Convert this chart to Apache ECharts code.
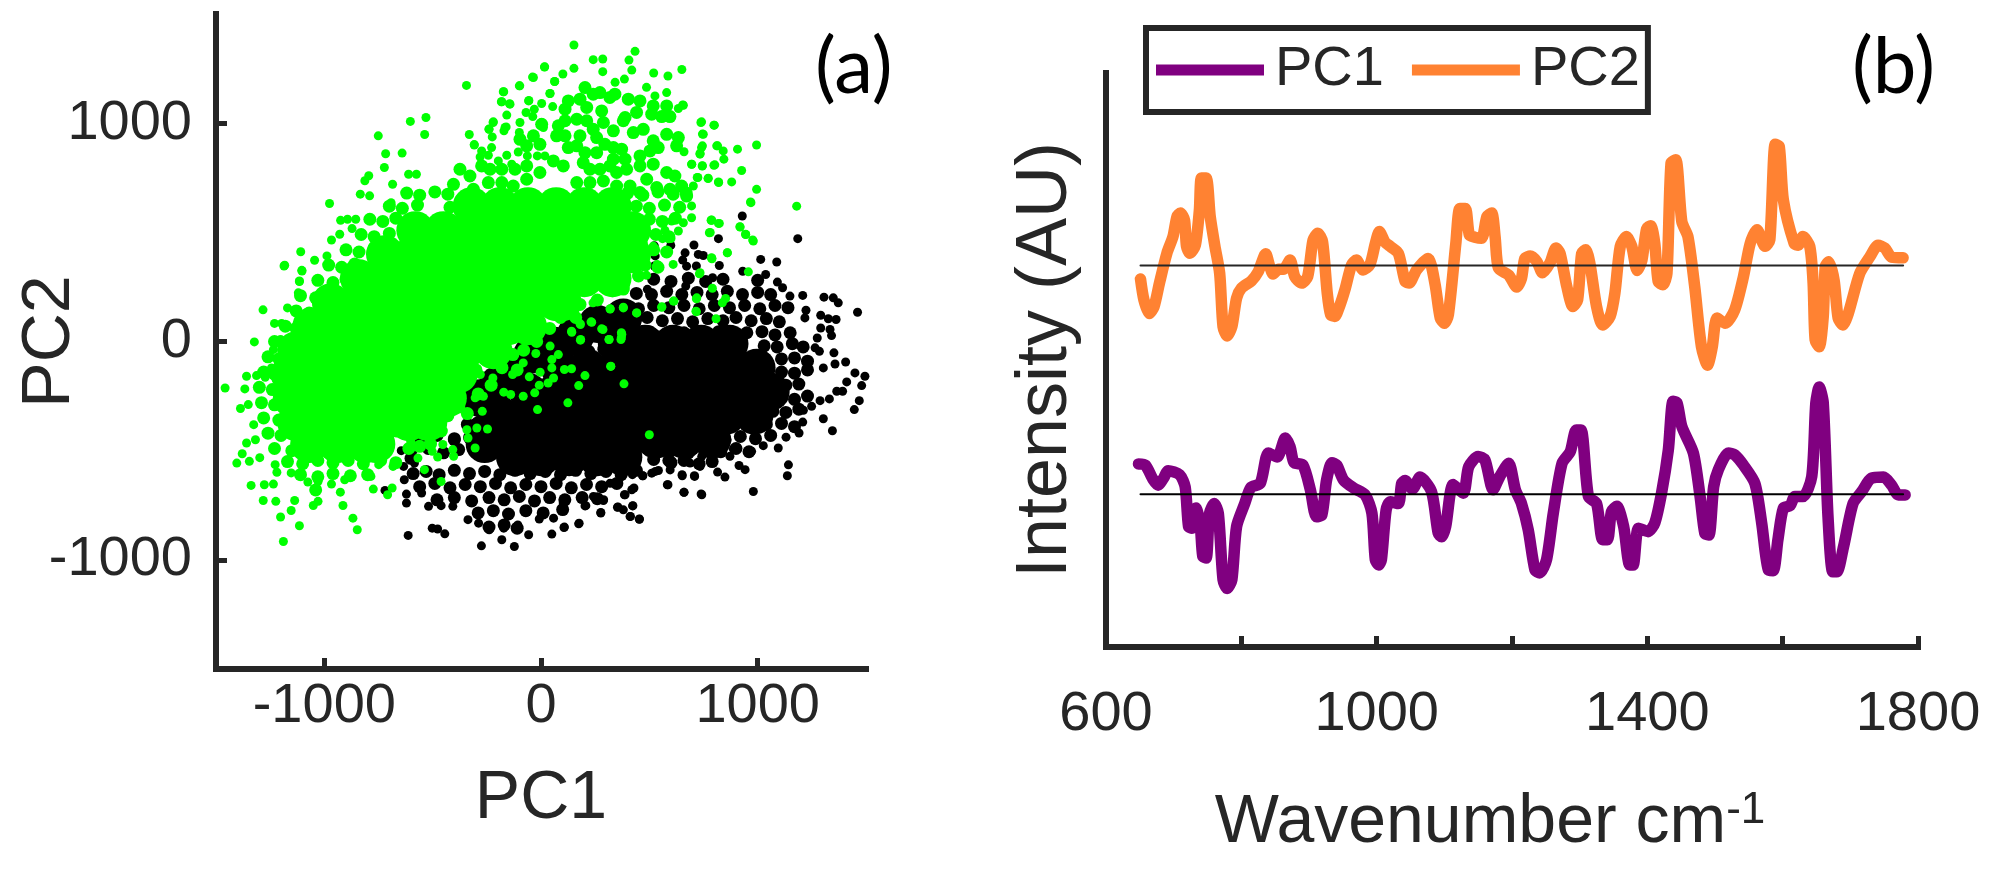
<!DOCTYPE html>
<html>
<head>
<meta charset="utf-8">
<style>
   html, body { margin: 0; padding: 0; background: #fff; }
   #chart { width: 2000px; height: 872px; }
</style>
<script src="https://cdn.jsdelivr.net/npm/echarts@6/dist/echarts.min.js"></script>
</head>
<body>
<div id="chart"></div>
<script>
// panel (a): the separate dots were read off the picture. Where dots overlap too much to
// be read one by one, the area is covered by the larger "core" and "patch" marks.
const blackCore = [
   [350,-10],[480,-10],[610,-10],[740,-10],[870,-10],
   [85,-120],[215,-120],[345,-120],[475,-120],[605,-120],[735,-120],[865,-120],[995,-120],
   [-60,-230],[70,-230],[200,-230],[330,-230],[460,-230],[590,-230],[720,-230],[850,-230],[980,-230],[1060,-230],
   [-185,-340],[-55,-340],[75,-340],[205,-340],[335,-340],[465,-340],[595,-340],[725,-340],[855,-340],[985,-340],
   [-260,-420],[-120,-450],[10,-450],[140,-450],[270,-450],[400,-450],[530,-450],[660,-450],[790,-450],
   [-260,-470],[-120,-530],[0,-530],[130,-530],[260,-530],[380,-530],
   [-130,-130],[-40,-60],[60,-20],[160,30],[260,80],[380,110],[-280,-260],[-200,-200]
];
const blackPatch = [
   [-590,-605],[-530,-595],[-470,-610],[-400,-590],[-330,-605],[-260,-595],[-190,-610],[-120,-590],[-50,-605],[20,-595],
   [90,-610],[160,-590],[230,-605],[300,-595],[370,-610],[440,-590],[520,-540],[590,-545],[-600,-535],
   [-560,-665],[-490,-650],[-420,-670],[-350,-655],[-280,-665],[-210,-650],[-140,-670],[-70,-655],[0,-665],[70,-650],
   [140,-670],[210,-655],[280,-665],[350,-650],
   [-480,-725],[-400,-715],[-320,-730],[-240,-715],[-170,-725],[-100,-710],[-30,-730],[40,-715],[110,-725],[190,-715],[260,-720],
   [-290,-785],[-220,-775],[-150,-790],[-70,-775],[10,-785],[100,-770],[-240,-850],[-170,-840],[-110,-855],
   [-600,-500],[-520,-490],[-450,-510],[-380,-495],[-560,-440],[-480,-430],[-400,-445],
   [-280,-300],[-220,-290],[-340,-310],[-340,-380],[-280,-370],[-400,-450],[-330,-440],
   [600,-500],[680,-510],[760,-495],[830,-505],[900,-490],[960,-505],[780,-440],[850,-450],[920,-435],[990,-445],[1060,-430],
   [600,-555],[660,-545],[730,-560],[790,-550],[1040,-380],[1110,-375],[1170,-390],[1070,-320],[1130,-325],[1190,-310],
   [1110,-260],[1170,-265],[1230,-250],[1130,-200],[1190,-195],[1110,-140],[1170,-145],[1230,-130],[1110,-80],[1170,-75],[1230,-90],
   [1030,-20],[1090,-25],[1160,-10],[1210,-25],[950,40],[1020,45],[1080,30],[1150,40],
   [200,40],[270,30],[340,45],[420,35],[500,45],[580,30],[660,40],[740,30],[820,45],[880,35],
   [350,100],[420,95],[490,110],[560,95],[630,105],[700,90],[770,105],[840,95],[900,110],[970,95],[1040,105],[1100,90],
   [380,160],[450,150],[520,165],[590,155],[660,165],[730,150],[800,165],[870,155],[940,165],[1010,150],[1080,165],[1140,155],
   [440,220],[510,215],[580,230],[650,215],[720,225],[790,215],[860,230],[930,215],[1000,225],[1060,215],
   [520,285],[600,275],[680,290],[760,275],[840,285],[1000,280],
   [90,-40],[150,-35],[220,-45],[290,-35]
];
const blackDots = [
   [-613,-888],[-502,-855],[-444,-881],[-477,-859],[-275,-936],[-181,-908],[-123,-939],[-57,-885],[50,-882],[108,-850],
   [174,-835],[58,-809],[-8,-813],[276,-786],[355,-758],[413,-801],[454,-813],[424,-752],[660,-691],[742,-702],
   [586,-656],[429,-671],[385,-702],[289,-725],[207,-752],[103,-740],[470,-615],[528,-595],[651,-610],[709,-618],
   [-621,-699],[-621,-740],[-461,-752],[-407,-755],[-519,-755],[-720,-682],[-700,-442],[-645,-500],[-634,-572],[-631,-633],
   [-584,-557],[-551,-694],[-337,-816],[-288,-832],[-239,-862],[-172,-855],[-107,-840],
   [929,575],[819,471],[1185,471],[706,442],[599,440],[665,406],[726,399],[749,394],[654,373],[672,345],
   [823,348],[1014,376],[1088,364],[931,322],[1037,307],[995,276],[1091,272],[1115,246],[792,292],[1149,208],
   [1208,211],[1306,203],[1349,200],[1372,177],[1461,134],[1223,143],[1218,108],[1291,120],[1326,104],[1362,101],
   [1291,62],[1334,55],[1341,27],[1275,16],[1265,-29],[1285,-45],[1352,-52],[1406,-94],[1357,-103],[1303,-121],
   [1449,-144],[1495,-159],[1480,-202],[1411,-185],[1365,-228],[1392,-228],[1469,-271],[1446,-312],[1331,-263],[1288,-271],
   [1249,-297],[1211,-315],[1303,-354],[1345,-409],[1208,-369],[1191,-419],[1131,-438],[1095,-488],[1026,-477],[972,-503],
   [1142,-565],[1137,-615],[980,-687],[942,-587],[914,-568],[849,-621],[815,-598],[739,-698],[660,-691],[583,-656],
   [708,-615],[652,-615],[469,-615],[511,-603],[542,-591],[422,-610],[419,-679],[388,-702],[423,-753],[353,-759],
   [380,-771],[411,-802],[454,-814],[276,-783],[203,-753],[176,-832],[106,-852],[103,-740],[288,-728],[242,-710],
   [319,-649],[888,-493],[795,-526],[742,-526],[734,-572],[688,-557],[596,-588],[872,-526],
   [236,441],[131,376],[283,361],[523,438],[527,392],[523,346],[491,239],[717,346],[668,254]
];
const greenCore = [
   [-320,620],[-190,620],[-60,620],[70,620],[200,620],[330,620],
   [-580,510],[-450,510],[-320,510],[-190,510],[-60,510],[70,510],[200,510],[330,510],[420,510],
   [-720,400],[-590,400],[-460,400],[-330,400],[-200,400],[-70,400],[60,400],[190,400],[320,400],[420,400],
   [-840,290],[-710,290],[-580,290],[-450,290],[-320,290],[-190,290],[-60,290],[70,290],[200,290],[330,290],
   [-970,180],[-840,180],[-710,180],[-580,180],[-450,180],[-320,180],[-190,180],[-60,180],[70,180],[100,180],
   [-1060,70],[-930,70],[-800,70],[-670,70],[-540,70],[-410,70],[-280,70],[-150,70],[-60,70],
   [-1130,-40],[-1000,-40],[-870,-40],[-740,-40],[-610,-40],[-480,-40],[-350,-40],[-220,-40],
   [-1160,-150],[-1030,-150],[-900,-150],[-770,-150],[-640,-150],[-510,-150],[-380,-150],
   [-1150,-260],[-1020,-260],[-890,-260],[-760,-260],[-630,-260],[-500,-260],[-430,-260],
   [-1130,-370],[-1000,-370],[-870,-370],[-740,-370],[-610,-370],[-520,-370],
   [-1070,-470],[-940,-470],[-810,-470],[-760,-470]
];
const greenPatch = [
   [203,1163],[241,1133],[180,1110],[126,1102],[111,1064],[211,1072],[272,1140],[318,1118],[341,1133],[403,1110],
   [457,1102],[388,1026],[441,1049],[280,1056],[518,1079],[511,1041],[580,1079],[595,1030],[557,1030],[380,1011],
   [334,965],[288,1003],[241,972],[211,1011],[165,1018],[111,1011],[80,988],[3,995],[-35,942],[72,942],
   [111,942],[180,942],[257,934],[295,903],[334,888],[372,881],[426,957],[472,972],[518,919],[541,888],
   [580,949],[634,934],[626,896],[457,850],[503,873],[388,835],[334,835],[257,865],[203,865],[165,896],
   [126,888],[-5,903],[-66,896],[-97,926],[195,819],[226,789],[272,789],[318,804],[349,774],[395,789],
   [457,804],[518,812],[580,774],[618,758],[488,743],[534,705],[595,697],[649,712],[672,666],[457,682],
   [411,712],[349,712],[288,735],[226,728],[165,728],[103,804],[57,827],[-5,774],[-66,804],[-120,789],
   [-181,789],[-235,789],[-274,804],[-328,758],[-374,789],[-404,720],[-312,697],[-243,728],[-181,728],[-128,712],[-66,743],
   [-620,680],[-560,670],[-490,685],[-430,675],[400,680],[470,670],[540,685],[610,675],[670,680],
   [-700,620],[-640,610],[-570,625],[-420,615],[440,620],[500,610],[570,625],[640,615],
   [-790,560],[-730,550],[-670,565],[-600,555],[500,560],[560,550],[620,565],
   [-830,490],[-770,480],[-700,495],[530,490],[590,480],[-900,420],[-840,410],[-770,425],[520,420],[580,410],
   [-980,350],[-920,340],[-860,355],[480,350],[540,340],[-1030,280],[-960,270],[-900,285],[-1110,210],[-1040,200],[-980,215],
   [-1130,140],[-1070,130],[-1180,70],[-1130,60],[-1230,0],[-1180,-10],[-1260,-70],[-1210,-80],[-1280,-140],[-1230,-150],
   [-1300,-210],[-1240,-220],[-1290,-280],[-1230,-290],[-1280,-350],[-1210,-360],[-1260,-420],[-1200,-430],[-1230,-490],[-1150,-500],
   [-1170,-550],[-1100,-560],[-1030,-545],[-960,-555],[-890,-545],[-820,-560],[-740,-545],[-670,-555],
   [-1110,-610],[-1030,-620],[-960,-605],[-880,-615],[-800,-610],[-1040,-680],
   [450,300],[380,240],[310,250],[260,190],[180,170],[160,110],[90,110],[40,60],[-20,0],[-80,-40],
   [-130,-60],[-110,-130],[-180,-120],[-230,-200],[-290,-240],[-300,-130],[-340,-330],[-380,-300],[-430,-340],[-460,-410],
   [-510,-470],[-560,-480],[-610,-490]
];
const greenDots = [
   [152,1358],[434,1329],[241,1291],[285,1294],[406,1289],[16,1257],[152,1251],[101,1225],[285,1236],[419,1243],
   [520,1230],[586,1216],[650,1246],[-39,1211],[-98,1171],[-344,1173],[63,1191],[-172,1144],[487,1164],[41,1136],
   [342,1187],[385,1202],[-181,1098],[-56,1104],[-145,1089],[-531,1026],[-603,1008],[-751,942],[-537,948],[-331,948],
   [-221,1003],[-308,902],[-717,860],[-641,863],[-166,980],[-240,973],[738,1003],[798,991],[745,950],[654,1083],
   [815,896],[745,896],[734,858],[660,869],[696,812],[745,805],[802,809],[724,751],[771,746],[819,731],
   [-723,797],[-611,766],[-575,766],[-795,759],[-813,736],[-685,720],[-834,675],[-791,667],[-976,632],[-692,636],
   [-925,555],[-893,560],[-855,560],[-872,517],[-967,465],[-929,491],[-1109,411],[-1183,349],[-1045,372],[-988,392],
   [-1103,323],[-1115,275],[787,557],[781,499],[819,541],[787,384],
   [-1283,145],[-1323,-2],[-1458,-213],[-1359,-159],[-1313,-156],[-1367,-217],[-1273,-164],[-1387,-307],[-1351,-289],[-1326,-381],
   [-1359,-465],[-1318,-450],[-1379,-514],[-1404,-557],[-1346,-549],[-1298,-532],[-1338,-659],[-1277,-656],[-1235,-653],[-1282,-728],
   [-1224,-732],[-1137,-728],[-1202,-804],[-1153,-774],[-1115,-844],[-1189,-916],[-1051,-751],[-1029,-732],[-1076,-644],[-1029,-641],
   [-967,-653],[-926,-690],[-906,-633],[-914,-751],[-868,-809],[-848,-862],[-774,-676],[-785,-618],[-749,-564],[-807,-541],
   [-708,-702],[-687,-671],[-683,-572],[-720,-503],[-782,-488],[-1227,-564],[-1219,-599],[-1153,-602],
   [-1244,-121],[-1235,-37],[-1230,83],[-1197,83],[-1186,346],[-1104,326],[-1115,277],[-1170,154],[-1120,223],[-1202,9],
   [500,-427],[383,-194],[322,-113],[124,-281],[-16,-312],[203,-156],[174,-202],[141,-125],[108,-128],[-29,-235],
   [-82,-251],[-140,-243],[-172,-232],[58,-167],[33,-190],[-8,-200],[-54,-162],[-4,-141],[50,-121],[50,-83],
   [80,-60],[42,-21],[-24,-55],[-82,-98],[-131,-151],[-222,-167],[-280,-151],[-266,-251],[-304,-258],[-271,-320],
   [-296,-396],[-247,-401],[-342,-404],[-337,-442],[-304,-488],[-407,-495],[-403,-526],[-461,-641],[-538,-587],[-568,-534],
   [-502,-503],[-477,-529],[-453,-472],[314,9],[371,17],[371,40],[182,6],[141,47],[182,78],[231,90],
   [286,55],[380,154],[441,131],[558,159],[614,185],[717,196],[717,136],[319,150],[240,177],[330,223],
   [388,254],[487,303],[610,353],[536,353],[734,315],[404,361],[-667,-419],[-568,-411],[-510,-327],[-477,-388],[-601,-457],
   [-174,1144],[-100,1171],[-35,1209],[17,1258],[63,1191],[42,1136],[-57,1102],[-183,1098],[-143,1087],[3,1090],
   [54,1076],[-69,1049],[-31,1064],[-158,1037],[-220,1006],[-240,972],[-161,983],[-225,937],[-171,965],
   [-308,900],[-228,888],[-274,873],[-281,845],[-243,853],[-197,827],[-135,812],
   [-63,850],[-17,850],[18,850],[-158,853],[-105,868],[-100,957],[-97,1003],[-38,1030],[3,1003],[11,980],
   [395,1110],[526,1125],[580,1140],[634,1067],[657,1082],
   [703,712],[741,1006],[749,949],[800,991],[811,896],[841,873],[844,835],[741,888],[734,862],[695,812],
   [744,804],[798,807],[907,881],[995,900],[926,783],[721,751],[772,748],[820,728],[880,731],[680,666],
   [695,621],[695,567],[657,544],[634,506],[603,552],[572,509],[561,471],[600,472],[472,452],[518,437],
   [788,555],[823,541],[777,498],[918,526],[944,491],[977,465],[860,407],[788,381],[995,697],[967,639],
   [969,636],[1180,620],[785,555],[919,524],[945,490],[980,460],[860,406],[789,379],[957,319],[731,310],
   [791,244],[852,197],[837,177],[719,200],[715,139],[611,185],[557,157],[808,104],[442,131],[380,157],
   [319,149],[373,32],[369,9],[314,9],[280,58],[234,88],[180,82],[142,42],[183,9],[322,-114]
];

// panel (b): [wavenumber, intensity], intensity on a 0-100 scale of the plot height
const pc2Curve = [
   [651,64.1],[656,60.5],[664,58.1],[671,59.3],[679,63.4],[690,68.6],[699,71.5],[705,75],[710,75.6],[716,74.4],
   [719,69.8],[724,68.6],[732,70],[738,76.1],[741,81.7],[748,81.7],[754,75],[761,69.8],[768,65.1],[773,55.8],
   [779,54.2],[786,55.8],[793,60.8],[800,62.5],[815,63.8],[825,65.4],[836,68.5],[842,66.3],[847,65],[855,65.8],
   [862,65.8],[872,67.4],[879,64.5],[889,63.4],[898,64.5],[906,70.9],[913,72.1],[920,70.6],[927,61.6],[932,57.9],
   [938,57.6],[945,59.3],[953,62.2],[963,66.6],[970,67.4],[980,65.7],[990,66.6],[998,70.3],[1004,72.4],[1012,70.6],
   [1020,69.8],[1032,68.6],[1042,63.7],[1048,63.4],[1059,65.7],[1076,67.7],[1086,63.4],[1094,57.3],[1100,56.4],[1106,57.9],
   [1117,70.3],[1123,76.4],[1131,76.4],[1137,71.8],[1145,71.4],[1155,71.2],[1163,75],[1170,75.6],[1175,71.5],[1180,66],
   [1195,64.8],[1207,62.7],[1214,64.2],[1219,67.7],[1227,68.1],[1237,67.1],[1245,65.2],[1256,66.9],[1265,69.5],[1271,68.6],
   [1281,62.8],[1290,59.3],[1297,60.5],[1303,68.6],[1309,69.2],[1315,66.9],[1325,59.3],[1334,56.1],[1345,57.6],[1352,61.6],
   [1360,69.8],[1369,71.5],[1377,69.8],[1385,65.6],[1392,67.4],[1399,72.9],[1405,73.4],[1411,70.3],[1416,63.7],[1423,63.1],
   [1429,65.1],[1435,84.3],[1442,84.9],[1451,74.1],[1460,71.5],[1470,62.8],[1480,52.3],[1489,49.1],[1496,52.3],[1503,57.3],
   [1515,56.4],[1529,58.7],[1542,64.5],[1552,70.3],[1562,72.7],[1574,69.8],[1581,70.9],[1589,87.6],[1595,87.2],[1601,77.9],
   [1617,70.3],[1623,70],[1630,71.5],[1640,69.8],[1645,63.4],[1648,53.5],[1654,52.3],[1660,57.6],[1663,66.3],[1668,67.1],
   [1676,63.9],[1682,57.3],[1689,56.1],[1697,58.1],[1714,65.1],[1729,68],[1741,70],[1751,69.5],[1761,67.9],[1778,67.8]
];
const pc1Curve = [
   [648,31.9],[658,31.7],[670,29.1],[677,28.2],[685,29.4],[692,30.7],[709,30],[717,27.9],[722,21],[727,20.7],
   [733,24.2],[739,21.6],[743,15.8],[748,15.5],[753,23.3],[760,25],[766,23.3],[773,11.7],[779,10.2],[786,11.7],
   [793,21],[805,25],[814,27.8],[828,28.5],[840,33.8],[853,33.1],[865,36.4],[872,34.9],[878,32.1],[891,31.7],
   [902,27.4],[911,22.7],[919,23],[926,29.1],[934,32.1],[941,31.7],[951,29.1],[966,27.7],[983,26.5],[993,23.3],
   [998,15.2],[1003,14.3],[1007,15.2],[1014,23.9],[1020,25.3],[1032,25],[1037,28.5],[1042,29],[1053,27.5],[1064,29.6],
   [1081,27.1],[1091,19.8],[1096,19.2],[1102,21],[1113,28.3],[1128,26.8],[1136,31.4],[1150,33.2],[1160,32.6],[1172,27.4],
   [1182,29.7],[1195,32],[1205,27.4],[1214,25],[1224,20.4],[1234,13.4],[1241,12.9],[1251,15.2],[1261,23.3],[1274,32],
   [1286,34],[1295,37.8],[1302,37.8],[1313,26.2],[1325,25],[1334,18.7],[1341,18.7],[1347,23.6],[1355,24.5],[1365,21],
   [1374,14.3],[1379,14.3],[1387,20.7],[1401,20.1],[1411,21.6],[1421,26.8],[1431,34.3],[1438,42.8],[1444,42.5],[1451,38.4],
   [1468,33.8],[1478,26.2],[1485,19.8],[1491,19.5],[1498,27.9],[1505,30.9],[1520,33.8],[1529,33.5],[1542,31.7],[1559,28.5],
   [1569,21.6],[1579,13.4],[1586,13.3],[1593,18.7],[1601,24.2],[1611,24.6],[1618,26.2],[1630,26.2],[1643,29.7],[1649,42.5],
   [1654,45.3],[1660,42.5],[1667,22.7],[1674,13.1],[1680,13.1],[1690,17.5],[1704,25],[1717,27.1],[1731,29.4],[1749,29.6],
   [1761,28.2],[1771,26.5],[1781,26.5]
];
const pc2Baseline = [[651,66.45],[1778,66.45]];
const pc1Baseline = [[651,26.6],[1778,26.6]];

const scatterTicks = [-1000, 0, 1000];
const waveTicks = [600, 800, 1000, 1200, 1400, 1600, 1800];
const waveLabels = [600, 1000, 1400, 1800];

const axisColor = "#262626";
const tickFont = {
   color: axisColor,
   fontFamily: "Liberation Sans",
   fontSize: 56,
   formatter: function(v) { return String(v); }
};

function axisBase(min, max) {
   return {
      type: "value",
      min: min,
      max: max,
      splitLine: { show: false },
      axisLine: { show: true, onZero: false, lineStyle: { color: axisColor, width: 6, cap: "square" } },
      nameMoveOverlap: false
   };
}
function dotSeries(data, color, size, z) {
   return {
      type: "scatter",
      xAxisIndex: 0,
      yAxisIndex: 0,
      data: data,
      symbolSize: size,
      itemStyle: { color: color, opacity: 1 },
      z: z,
      silent: true
   };
}
function lineSeries(name, data, color, width, z, smooth) {
   return {
      name: name,
      type: "line",
      xAxisIndex: 1,
      yAxisIndex: 1,
      data: data,
      showSymbol: false,
      smooth: smooth,
      lineStyle: { color: color, width: width, cap: "round", join: "round" },
      itemStyle: { color: color },
      z: z,
      silent: true
   };
}

let myChart = echarts.init(document.getElementById("chart"));
myChart.setOption({
   animation: false,
   backgroundColor: "#fff",
   title: [
      { text: "(a)", left: 810, top: 24, textStyle: { fontFamily: "Lato", fontWeight: "normal", fontSize: 78, color: "#000" } },
      { text: "(b)", left: 1847, top: 24, textStyle: { fontFamily: "Lato", fontWeight: "normal", fontSize: 78, color: "#000" } }
   ],
   legend: {
      data: ["PC1", "PC2"],
      left: 1146,
      top: 28,
      orient: "horizontal",
      icon: "rect",
      itemWidth: 108,
      itemHeight: 11,
      itemGap: 28,
      padding: [14, 8, 14, 10],
      borderColor: axisColor,
      borderWidth: 6,
      textStyle: { color: axisColor, fontFamily: "Liberation Sans", fontSize: 56, padding: [0, 0, 0, 6] }
   },
   grid: [
      { left: 216, top: 14, width: 650, height: 655 },
      { left: 1106, top: 73, width: 812, height: 574 }
   ],
   xAxis: [
      Object.assign(axisBase(-1500, 1500), {
         gridIndex: 0,
         name: "PC1",
         nameLocation: "middle",
         nameGap: 96,
         nameTextStyle: { color: axisColor, fontFamily: "Liberation Sans", fontSize: 68 },
         axisTick: { inside: true, length: 11, customValues: scatterTicks, lineStyle: { color: axisColor, width: 5 } },
         axisLabel: { customValues: scatterTicks, margin: 10, ...tickFont }
      }),
      Object.assign(axisBase(600, 1800), {
         gridIndex: 1,
         interval: 200,
         name: "{t|Wavenumber cm}{s|-1}",
         nameLocation: "middle",
         nameGap: 142,
         nameTextStyle: {
            padding: [0, 44, 0, 0],
            rich: {
               t: { color: axisColor, fontFamily: "Liberation Sans", fontSize: 68 },
               s: { color: axisColor, fontFamily: "Liberation Sans", fontSize: 44, verticalAlign: "top", lineHeight: 60 }
            }
         },
         axisTick: { inside: true, length: 11, customValues: waveTicks, lineStyle: { color: axisColor, width: 5 } },
         axisLabel: { customValues: waveLabels, margin: 40, ...tickFont }
      })
   ],
   yAxis: [
      Object.assign(axisBase(-1500, 1500), {
         gridIndex: 0,
         name: "PC2",
         nameLocation: "middle",
         nameGap: 132,
         nameTextStyle: { color: axisColor, fontFamily: "Liberation Sans", fontSize: 68 },
         axisTick: { inside: true, length: 11, customValues: scatterTicks, lineStyle: { color: axisColor, width: 5 } },
         axisLabel: { customValues: scatterTicks, margin: 24, ...tickFont }
      }),
      Object.assign(axisBase(0, 100), {
         gridIndex: 1,
         name: "Intensity (AU)",
         nameLocation: "middle",
         nameGap: 24,
         nameTextStyle: { color: axisColor, fontFamily: "Liberation Sans", fontSize: 72 },
         axisTick: { show: false },
         axisLabel: { show: false }
      })
   ],
   series: [
      dotSeries(blackCore, "#000", 38, 2),
      dotSeries(blackPatch, "#000", 13, 2),
      dotSeries(blackDots, "#000", 9, 2),
      dotSeries(greenCore, "#00ff00", 38, 3),
      dotSeries(greenPatch, "#00ff00", 13, 3),
      dotSeries(greenDots, "#00ff00", 9, 3),
      lineSeries("PC2", pc2Curve, "#ff8232", 11.5, 2, 0.25),
      lineSeries("PC1", pc1Curve, "#800080", 11.5, 2, 0.25),
      lineSeries("base2", pc2Baseline, "#262626", 2, 3, false),
      lineSeries("base1", pc1Baseline, "#000", 2, 3, false)
   ]
});
</script>
</body>
</html>
